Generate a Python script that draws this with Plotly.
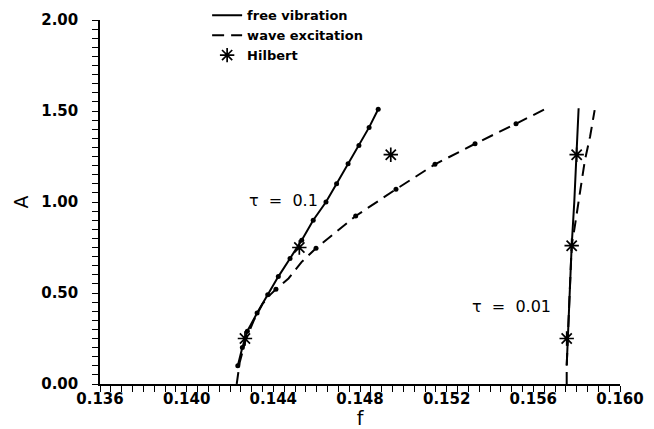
import numpy as np
import plotly.graph_objects as go

# Backbone curves, amplitude A versus frequency f
# tau = 0.1, free vibration (solid, computed points shown as dots)
free01_f = [0.14236, 0.14257, 0.14280, 0.14325, 0.14374, 0.14423, 0.14477, 0.14531,
            0.14584, 0.14643, 0.14692, 0.14745, 0.14795, 0.14842, 0.14884]
free01_A = [0.10, 0.20, 0.29, 0.39, 0.49, 0.59, 0.69, 0.79,
            0.90, 1.00, 1.10, 1.21, 1.31, 1.41, 1.51]

# tau = 0.1, wave excitation (dashed curve and its sample points)
wave01_f = [0.14231, 0.14245, 0.14272, 0.14310, 0.14350, 0.14385, 0.14412, 0.14470,
            0.14530, 0.14597, 0.14780, 0.14966, 0.15146, 0.15331, 0.15520, 0.15662]
wave01_A = [0.00, 0.12, 0.24, 0.35, 0.44, 0.49, 0.52, 0.58,
            0.67, 0.746, 0.923, 1.07, 1.207, 1.32, 1.43, 1.515]
wave01_pts_f = [0.14412, 0.14597, 0.14780, 0.14966, 0.15146, 0.15331, 0.15520]
wave01_pts_A = [0.52, 0.746, 0.923, 1.07, 1.207, 1.32, 1.43]

# tau = 0.01
free001_f = [0.15754, 0.15766, 0.15777, 0.15789, 0.15800, 0.15809]
free001_A = [0.10, 0.45, 0.76, 1.00, 1.26, 1.515]
wave001_f = [0.15754, 0.15754, 0.15766, 0.15777, 0.15792, 0.15808,
             0.15823, 0.15838, 0.15862, 0.15877, 0.15883]
wave001_A = [0.00, 0.10, 0.45, 0.76, 0.87, 1.00,
             1.12, 1.23, 1.36, 1.47, 1.505]

# Hilbert transform estimates
hilbert_f = [0.14269, 0.14520, 0.14942, 0.15754, 0.15777, 0.15800]
hilbert_A = [0.25, 0.75, 1.26, 0.25, 0.76, 1.26]

F_RANGE = [0.136, 0.160]
A_RANGE = [0.0, 2.0]

# every fine tick gets a mark; only every 8th (f) / 10th (A) gets a label
f_tickvals = np.round(np.arange(0.136, 0.16 + 1e-9, 0.0005), 4)
f_ticktext = [f"{v:.3f}" if i % 8 == 0 else "" for i, v in enumerate(f_tickvals)]
A_tickvals = np.round(np.arange(0.0, 2.0 + 1e-9, 0.05), 2)
A_ticktext = [f"{v:.2f}" if i % 10 == 0 else "" for i, v in enumerate(A_tickvals)]

FONT = "DejaVu Sans"
dash = "12px,7px"

fig = go.Figure()

# solid curves
fig.add_trace(go.Scatter(
    x=free01_f, y=free01_A, mode="lines", name="free vibration",
    legendgroup="free", line=dict(color="black", width=2)))
fig.add_trace(go.Scatter(
    x=free001_f, y=free001_A, mode="lines", name="free vibration",
    legendgroup="free", showlegend=False, line=dict(color="black", width=2)))
fig.add_trace(go.Scatter(
    x=free01_f, y=free01_A, mode="markers", name="free vibration",
    legendgroup="free", showlegend=False, marker=dict(color="black", size=5)))

# dashed curves
fig.add_trace(go.Scatter(
    x=wave01_f, y=wave01_A, mode="lines", name="wave excitation",
    legendgroup="wave", line=dict(color="black", width=2, dash=dash)))
fig.add_trace(go.Scatter(
    x=wave001_f, y=wave001_A, mode="lines", name="wave excitation",
    legendgroup="wave", showlegend=False,
    line=dict(color="black", width=2, dash=dash)))
fig.add_trace(go.Scatter(
    x=wave01_pts_f, y=wave01_pts_A, mode="markers", name="wave excitation",
    legendgroup="wave", showlegend=False, marker=dict(color="black", size=5)))

# Hilbert estimates
fig.add_trace(go.Scatter(
    x=hilbert_f, y=hilbert_A, mode="markers", name="Hilbert",
    marker=dict(symbol="asterisk-open", size=12, color="black",
                line=dict(color="black", width=1.7))))

fig.add_annotation(x=0.14449, y=1.01, text="τ  =  0.1", showarrow=False,
                   font=dict(family=FONT, size=16, color="black"))
fig.add_annotation(x=0.15497, y=0.425, text="τ  =  0.01", showarrow=False,
                   font=dict(family=FONT, size=16, color="black"))

axis_common = dict(
    showline=True, linecolor="black", linewidth=1.5,
    showgrid=False, zeroline=False,
    ticks="outside", ticklen=6, tickwidth=1.4, tickcolor="black",
    tickfont=dict(family=FONT, size=15, color="black", weight="bold"),
    mirror=False, tickmode="array",
)

fig.update_xaxes(
    range=F_RANGE, tickvals=f_tickvals, ticktext=f_ticktext,
    ticklabelstandoff=-6,
    title=dict(text="f", font=dict(family=FONT, size=19, color="black"), standoff=4),
    **axis_common)
fig.update_yaxes(
    range=A_RANGE, tickvals=A_tickvals, ticktext=A_ticktext,
    title=dict(text="A", font=dict(family=FONT, size=19, color="black"), standoff=8),
    ticklabelstandoff=11,
    **axis_common)

fig.update_layout(
    width=654, height=429, autosize=False,
    margin=dict(l=100, r=34, t=20, b=45, autoexpand=False),
    paper_bgcolor="white", plot_bgcolor="white",
    legend=dict(x=0.206, y=1.054, xanchor="left", yanchor="top",
                bgcolor="rgba(0,0,0,0)", borderwidth=0, tracegroupgap=0,
                font=dict(family=FONT, size=13, color="black", weight="bold")),
)

fig.write_html("out.html")
